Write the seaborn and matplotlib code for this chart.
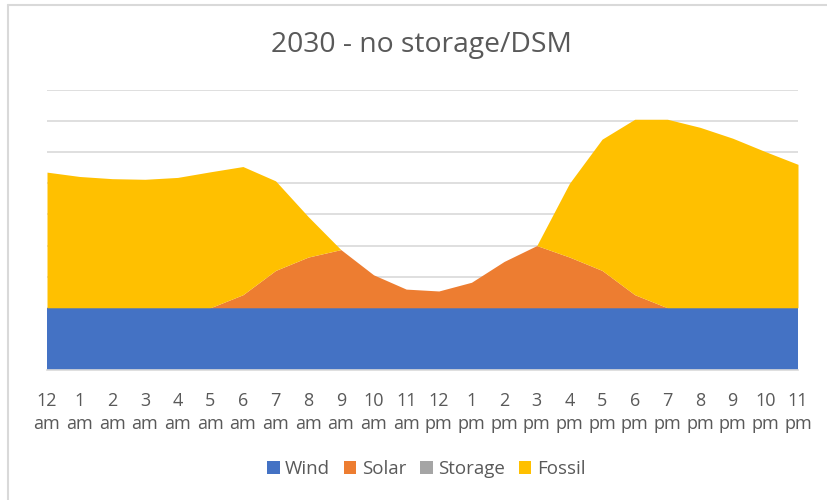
import matplotlib
matplotlib.use("Agg")
import matplotlib.pyplot as plt
import seaborn as sns
from matplotlib.lines import Line2D
from matplotlib.patches import Patch

hours = ["12\nam", "1\nam", "2\nam", "3\nam", "4\nam", "5\nam", "6\nam", "7\nam",
         "8\nam", "9\nam", "10\nam", "11\nam", "12\npm", "1\npm", "2\npm", "3\npm",
         "4\npm", "5\npm", "6\npm", "7\npm", "8\npm", "9\npm", "10\npm", "11\npm"]
wind = [2.0] * 24
solar = [0, 0, 0, 0, 0, 0, 0.42, 1.20, 1.63, 1.87, 1.06, 0.60,
         0.54, 0.82, 1.49, 2.00, 1.63, 1.20, 0.42, 0, 0, 0, 0, 0]
storage = [0.0] * 24
fossil = [4.36, 4.22, 4.15, 4.13, 4.19, 4.37, 4.12, 2.88, 1.30, 0, 0, 0,
          0, 0, 0, 0, 2.37, 4.22, 5.64, 6.06, 5.80, 5.45, 5.02, 4.61]
series = ["Wind", "Solar", "Storage", "Fossil"]
colors = ["#4472C4", "#ED7D31", "#A5A5A5", "#FFC000"]

sns.set_theme(style="white")
plt.rcParams["font.family"] = ["Open Sans", "DejaVu Sans"]
txt = "#595959"

fig = plt.figure(figsize=(8.28, 5.00), dpi=100)
ax = fig.add_axes([47 / 828, 130 / 500, 751 / 828, 280 / 500])
x = list(range(len(hours)))
ax.stackplot(x, wind, solar, storage, fossil, colors=colors, linewidth=0, zorder=2)
ax.set_xlim(0, 23)
ax.set_ylim(0, 9)
ax.set_yticks(range(0, 10))
ax.set_yticklabels([])
ax.tick_params(axis="y", length=0)
ax.yaxis.grid(True, color="#D9D9D9", linewidth=1.2, zorder=0)
ax.set_axisbelow(True)
ax.set_xticks(x)
ax.set_xticklabels(hours, fontsize=13, color=txt, linespacing=1.35)
ax.tick_params(axis="x", length=0, pad=16)
for s in ["top", "right", "left"]:
    ax.spines[s].set_visible(False)
ax.spines["bottom"].set_color("#D9D9D9")
ax.spines["bottom"].set_linewidth(1.2)

fig.text(0.509, 1 - 45 / 500, "2030 - no storage/DSM", ha="center", va="center",
         fontsize=20.3, color=txt)

handles = [Patch(facecolor=c, edgecolor="none", label=s) for s, c in zip(series, colors)]
fig.legend(handles=handles, loc="center", bbox_to_anchor=(0.515, 1 - 469 / 500), ncol=4,
           frameon=False, fontsize=13.5, labelcolor=txt, handlelength=0.65, handleheight=0.65,
           handletextpad=0.3, columnspacing=0.75)

fig.add_artist(Line2D([8 / 828, 8 / 828], [0, 1 - 5 / 500], transform=fig.transFigure,
                      color="#D9D9D9", linewidth=1.5))
fig.add_artist(Line2D([8 / 828, 1], [1 - 5 / 500, 1 - 5 / 500], transform=fig.transFigure,
                      color="#D9D9D9", linewidth=1.5))

fig.savefig("out.png", dpi=100)
